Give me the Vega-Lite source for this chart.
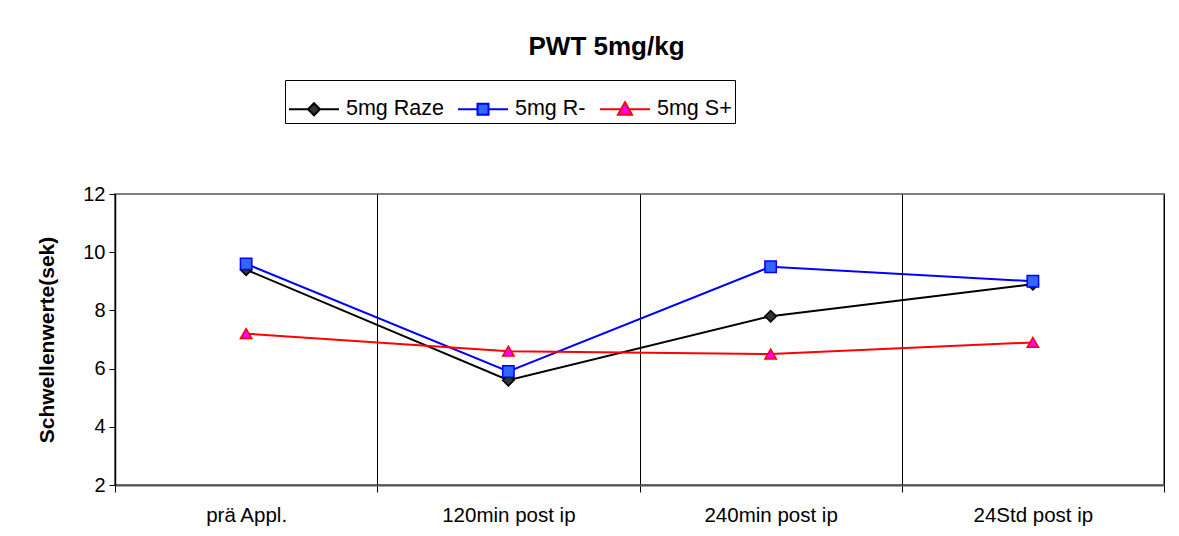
{
  "$schema": "https://vega.github.io/schema/vega-lite/v6.json",
  "width": 1049,
  "height": 291,
  "autosize": {"type": "none"},
  "padding": {"left": 115, "top": 194, "right": 15, "bottom": 51},
  "background": "white",
  "title": {
    "text": "PWT 5mg/kg",
    "font": "Liberation Sans",
    "fontSize": 26,
    "fontWeight": "bold",
    "color": "black",
    "anchor": "middle",
    "frame": "group",
    "dx": -33,
    "offset": 20
  },
  "data": {
    "values": [
      {"time": "prä Appl.", "series": "5mg Raze", "value": 9.4},
      {"time": "120min post ip", "series": "5mg Raze", "value": 5.6},
      {"time": "240min post ip", "series": "5mg Raze", "value": 7.8},
      {"time": "24Std post ip", "series": "5mg Raze", "value": 8.9},
      {"time": "prä Appl.", "series": "5mg R-", "value": 9.6},
      {"time": "120min post ip", "series": "5mg R-", "value": 5.9},
      {"time": "240min post ip", "series": "5mg R-", "value": 9.5},
      {"time": "24Std post ip", "series": "5mg R-", "value": 9.0},
      {"time": "prä Appl.", "series": "5mg S+", "value": 7.2},
      {"time": "120min post ip", "series": "5mg S+", "value": 6.6},
      {"time": "240min post ip", "series": "5mg S+", "value": 6.5},
      {"time": "24Std post ip", "series": "5mg S+", "value": 6.9}
    ]
  },
  "encoding": {
    "x": {
      "field": "time",
      "type": "ordinal",
      "bandPosition": 0.5,
      "scale": {
        "type": "band",
        "domain": ["prä Appl.", "120min post ip", "240min post ip", "24Std post ip"],
        "paddingInner": 0,
        "paddingOuter": 0
      },
      "axis": {
        "title": null,
        "labelAngle": 0,
        "tickBand": "extent",
        "grid": true,
        "gridColor": "black",
        "gridWidth": 1,
        "gridOpacity": 1,
        "domainColor": "#555555",
        "domainWidth": 2,
        "tickColor": "black",
        "tickSize": 7,
        "labelFont": "Liberation Sans",
        "labelFontSize": 20.5,
        "labelColor": "black",
        "labelPadding": 13
      }
    },
    "y": {
      "field": "value",
      "type": "quantitative",
      "scale": {"domain": [2, 12], "nice": false, "zero": false},
      "axis": {
        "title": "Schwellenwerte(sek)",
        "titleFont": "Liberation Sans",
        "titleFontSize": 21,
        "titleFontWeight": "bold",
        "titleColor": "black",
        "titlePadding": 25,
        "values": [2, 4, 6, 8, 10, 12],
        "grid": false,
        "domainColor": "black",
        "domainWidth": 1.5,
        "tickColor": "black",
        "tickSize": 6,
        "labelFont": "Liberation Sans",
        "labelFontSize": 20,
        "labelColor": "black",
        "labelPadding": 4
      }
    }
  },
  "layer": [
    {
      "mark": {"type": "line", "strokeWidth": 2},
      "encoding": {
        "color": {
          "field": "series",
          "type": "nominal",
          "scale": {"domain": ["5mg Raze", "5mg R-", "5mg S+"], "range": ["#000000", "#0000FF", "#FF0000"]},
          "legend": null
        }
      }
    },
    {
      "mark": {"type": "point", "filled": true, "size": 130, "strokeWidth": 1.5, "opacity": 1},
      "encoding": {
        "shape": {
          "field": "series",
          "type": "nominal",
          "scale": {"domain": ["5mg Raze", "5mg R-", "5mg S+"], "range": ["diamond", "square", "triangle-up"]},
          "legend": null
        },
        "fill": {
          "field": "series",
          "type": "nominal",
          "scale": {"domain": ["5mg Raze", "5mg R-", "5mg S+"], "range": ["#333333", "#3366FF", "#FF00FF"]},
          "legend": null
        },
        "stroke": {
          "field": "series",
          "type": "nominal",
          "scale": {"domain": ["5mg Raze", "5mg R-", "5mg S+"], "range": ["#000000", "#0000FF", "#FF0000"]},
          "legend": null
        }
      }
    },
    {
      "transform": [{"filter": "datum.value > 100"}],
      "mark": {"type": "point", "filled": true, "strokeWidth": 2, "opacity": 1},
      "encoding": {
        "shape": {
          "field": "series",
          "type": "nominal",
          "scale": {
            "domain": ["5mg Raze", "5mg R-", "5mg S+"],
            "range": [
              "M-1,0L-0.24,0M0.24,0L1,0M0,-0.24L0.24,0L0,0.24L-0.24,0Z",
              "M-1,0L-0.22,0M0.22,0L1,0M-0.22,-0.22L0.22,-0.22L0.22,0.22L-0.22,0.22Z",
              "M-1,0L-0.16,0M0.16,0L1,0M0,-0.28L0.28,0.22L-0.28,0.22Z"
            ]
          },
          "legend": {
            "title": null,
            "orient": "none",
            "legendX": 170,
            "legendY": -114,
            "direction": "horizontal",
            "strokeColor": "black",
            "fillColor": "white",
            "padding": 3,
            "symbolSize": 2500,
            "symbolStrokeWidth": 2,
            "symbolOpacity": 1,
            "labelFont": "Liberation Sans",
            "labelFontSize": 21.5,
            "labelColor": "black",
            "labelOffset": 6,
            "columnPadding": 10
          }
        },
        "fill": {
          "field": "series",
          "type": "nominal",
          "scale": {"domain": ["5mg Raze", "5mg R-", "5mg S+"], "range": ["#333333", "#3366FF", "#FF00FF"]}
        },
        "stroke": {
          "field": "series",
          "type": "nominal",
          "scale": {"domain": ["5mg Raze", "5mg R-", "5mg S+"], "range": ["#000000", "#0000FF", "#FF0000"]}
        }
      }
    }
  ],
  "resolve": {"scale": {"shape": "independent"}, "legend": {"shape": "independent", "fill": "independent", "stroke": "independent"}},
  "config": {
    "view": {"stroke": "#808080", "strokeWidth": 2}
  }
}
